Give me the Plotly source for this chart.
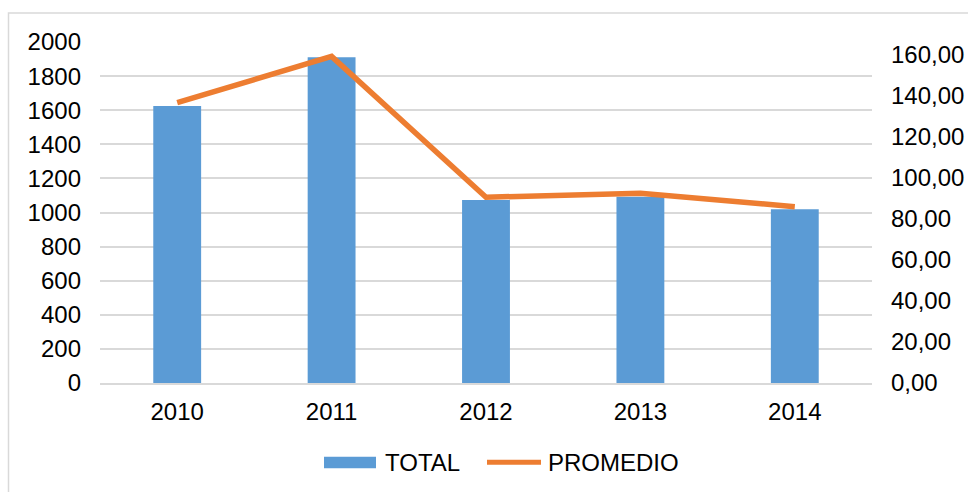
"""Gráfico combinado: TOTAL (barras) y PROMEDIO (línea) por año."""

import plotly.graph_objects as go

# Datos
YEARS = ["2010", "2011", "2012", "2013", "2014"]
TOTAL = [1625, 1910, 1073, 1093, 1019]
PROMEDIO = [136.7, 159.3, 90.6, 92.5, 86.0]
RIGHT_TICKS = [0, 20, 40, 60, 80, 100, 120, 140, 160]

BAR_COLOR = "#5B9BD5"
LINE_COLOR = "#ED7D31"
GRID_COLOR = "#D9D9D9"
FONT = "Liberation Sans, Arial, sans-serif"

W, H = 968, 492
ML, MR, MT, MB = 100, 96, 42, 109
PW, PH = W - ML - MR, H - MT - MB


def px_x(x):
    return (x - ML) / PW


def px_y(y):
    return (H - MB - y) / PH


fig = go.Figure()
fig.add_trace(go.Bar(x=YEARS, y=TOTAL, name="TOTAL", marker=dict(color=BAR_COLOR, line=dict(width=0))))
fig.add_trace(
    go.Scatter(
        x=YEARS,
        y=PROMEDIO,
        name="PROMEDIO",
        mode="lines",
        yaxis="y2",
        line=dict(color=LINE_COLOR, width=5.5),
    )
)

# leyenda dibujada a mano (símbolos anchos como en Excel)
legend_y = px_y(462.3)
shapes = [
    dict(
        type="rect", xref="paper", yref="paper",
        x0=px_x(8.5), x1=px_x(985), y0=px_y(510), y1=px_y(13),
        line=dict(color=GRID_COLOR, width=1.5), fillcolor="rgba(0,0,0,0)", layer="below",
    ),
    dict(
        type="rect", xref="paper", yref="paper",
        x0=px_x(324), x1=px_x(376), y0=px_y(456.7), y1=px_y(468.3),
        line=dict(width=0), fillcolor=BAR_COLOR,
    ),
    dict(
        type="line", xref="paper", yref="paper",
        x0=px_x(487), x1=px_x(541), y0=legend_y, y1=legend_y,
        line=dict(color=LINE_COLOR, width=5),
    ),
]
annotations = [
    dict(text="TOTAL", xref="paper", yref="paper", x=px_x(382.7), y=legend_y,
         xanchor="left", yanchor="middle", showarrow=False),
    dict(text="PROMEDIO", xref="paper", yref="paper", x=px_x(546), y=legend_y,
         xanchor="left", yanchor="middle", showarrow=False),
]

fig.update_layout(
    width=W,
    height=H,
    separators=",.",
    plot_bgcolor="white",
    paper_bgcolor="white",
    font=dict(family=FONT, size=24, color="#000000"),
    margin=dict(l=ML, r=MR, t=MT, b=MB),
    bargap=0.69,
    showlegend=False,
    xaxis=dict(
        showgrid=False,
        showline=True,
        linecolor=GRID_COLOR,
        linewidth=2,
        ticks="",
        ticklabelstandoff=6,
        automargin=False,
    ),
    yaxis=dict(
        range=[0, 2000],
        dtick=200,
        showgrid=True,
        gridcolor=GRID_COLOR,
        gridwidth=1.5,
        zeroline=False,
        ticks="",
        ticklabelstandoff=18,
        automargin=False,
    ),
    # el eje secundario llega algo más arriba de 160 (como en el original)
    yaxis2=dict(
        range=[0, 166.3],
        tickvals=RIGHT_TICKS,
        tickformat=".2f",
        overlaying="y",
        side="right",
        showgrid=False,
        zeroline=False,
        ticks="",
        ticklabelstandoff=18,
        automargin=False,
    ),
    shapes=shapes,
    annotations=annotations,
)

# sin margen en el cuerpo de la página, para que la figura ocupe toda la ventana
fig.write_html(
    "out.html",
    config={"displayModeBar": False},
    post_script="document.body.style.margin='0';document.body.style.overflow='hidden';",
)
